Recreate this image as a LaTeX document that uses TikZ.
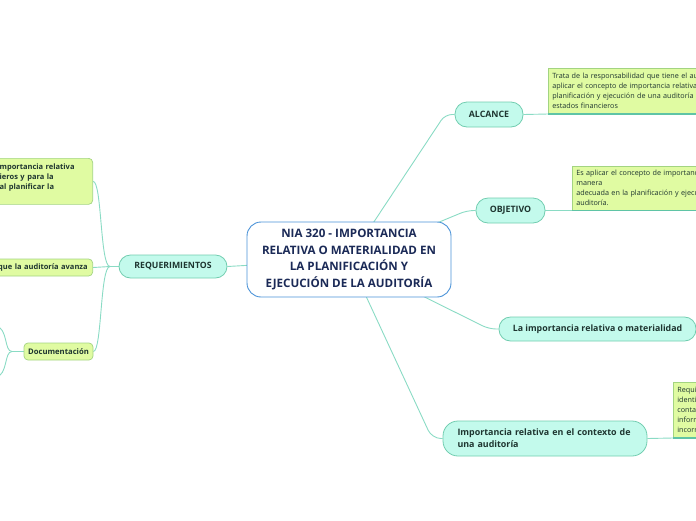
\documentclass[tikz,border=0pt]{standalone}
\usepackage{fontspec}
\setmainfont{Open Sans}
\usetikzlibrary{backgrounds,calc}
\definecolor{lineC}{HTML}{8ADBC4}
\definecolor{pillFill}{HTML}{C3FAEC}
\definecolor{pillDraw}{HTML}{72CDB0}
\definecolor{greenFill}{HTML}{E0FBA2}
\definecolor{greenDraw}{HTML}{A3D481}
\definecolor{centerDraw}{HTML}{4B93D8}
\definecolor{centerText}{HTML}{1B2A57}
\definecolor{txt}{HTML}{1E3530}
\definecolor{underC}{HTML}{5FC4A6}
\tikzset{
  conn/.style={draw=lineC, line width=0.9pt},
  under/.style={draw=underC, line width=1.3pt},
  pill/.style={draw=pillDraw, fill=pillFill, line width=0.8pt, text=txt,
    font=\bfseries\fontsize{8.8}{11.5}\selectfont, inner sep=0pt},
  gbox/.style={draw=greenDraw, fill=greenFill, line width=0.7pt, text=txt,
    font=\fontsize{7.2}{10}\selectfont, inner xsep=4pt, inner ysep=2pt, align=left},
  lbox/.style={gbox, rounded corners=4pt, font=\bfseries\fontsize{7.5}{10}\selectfont},
}
\begin{document}
\begin{tikzpicture}[x=1pt,y=-1pt]
\useasboundingbox (0,0) rectangle (696,520);
% central node
\node[draw=centerDraw, fill=white, line width=0.9pt, rounded corners=14pt,
  minimum width=204, minimum height=75, inner sep=0pt, text=centerText,
  font=\bfseries\fontsize{11.6}{16.5}\selectfont, align=center]
  (ctr) at (349,259.5) {NIA 320 - IMPORTANCIA\\RELATIVA O MATERIALIDAD EN\\LA PLANIFICACIÓN Y\\EJECUCIÓN DE LA AUDITORÍA};
% main branches
\node[pill, rounded corners=12pt, minimum width=68, minimum height=25] (alc) at (489,114.5) {ALCANCE};
\node[pill, rounded corners=12pt, minimum width=69, minimum height=25] (obj) at (510.5,210.5) {OBJETIVO};
\node[pill, rounded corners=11.5pt, minimum width=197, minimum height=24] (mat) at (597.5,329) {La importancia relativa o materialidad};
\node[pill, rounded corners=15pt, minimum width=204, minimum height=35, text width=175, align=left,
  font=\bfseries\fontsize{8.9}{12}\selectfont] (ctx) at (545,438.5) {Importancia relativa en el contexto de\\una auditoría};
\node[pill, rounded corners=11.5pt, minimum width=108, minimum height=23,
  font=\bfseries\fontsize{8.7}{10}\selectfont] (req) at (173,266.5) {REQUERIMIENTOS};
% right description boxes
\node[gbox, anchor=south west, text width=190, minimum height=45] (alcd) at (548,114)
  {Trata de la responsabilidad que tiene el au\\aplicar el concepto de importancia relativa\\planificación y ejecución de una auditoría\\estados financieros};
\node[gbox, anchor=south west, text width=160, minimum height=44] (objd) at (572,210.5)
  {Es aplicar el concepto de importanc\\manera\\adecuada en la planificación y ejecu\\auditoría.};
\node[gbox, anchor=south west, text width=60, minimum height=55] (ctxd) at (673,438)
  {Requi\\identi\\conta\\inform\\incorr};
% left boxes
\node[lbox, anchor=north east, text width=89, minimum height=46] (rq1) at (93,158)
  {mportancia relativa\\ieros y para la\\al planificar la\\\mbox{}};
\node[lbox, anchor=east, text width=100, align=right, minimum height=17, inner xsep=5pt] (rq2) at (93,267.5)
  {que la auditoría avanza};
\node[lbox, minimum width=69, minimum height=17, align=center, inner xsep=0pt,
  font=\bfseries\fontsize{7.7}{10}\selectfont] (doc) at (58.5,351.5)
  {Documentación};
% free ends and junctions
\coordinate (ja) at (445,114.5);
\coordinate (jo) at (467,210.5);
\coordinate (jm) at (489,329);
\coordinate (jc) at (432,438.5);
\coordinate (jr) at (110,266.5);
\coordinate (jd) at (12,351.5);
\coordinate (d1) at (-4,326);
\coordinate (d2) at (-4,377);
\begin{scope}[on background layer]
  \draw[conn, rounded corners=7pt] (ctr.center) -- (ja) -- (alc.west);
  \draw[conn, rounded corners=7pt] (ctr.center) -- (jo) -- (obj.west);
  \draw[conn, rounded corners=7pt] (ctr.center) -- (jm) -- (mat.west);
  \draw[conn, rounded corners=9pt] (ctr.center) -- (jc) -- (ctx.west);
  \draw[conn] (ctr.center) -- (req.east);
  \draw[conn] (req.west) -- (jr);
  \draw[conn] (jr) .. controls (100,266.5) and (102,181) .. (rq1.east);
  \draw[conn] (jr) -- (rq2.east);
  \draw[conn] (jr) .. controls (100,266.5) and (102,351.5) .. (doc.east);
  \draw[conn] (doc.west) -- (jd);
  \draw[conn] (jd) .. controls (4,351.5) and (8,328) .. (d1);
  \draw[conn] (jd) .. controls (4,351.5) and (8,375) .. (d2);
  \draw[conn] (alc.east) -- (alcd.south west);
  \draw[conn] (obj.east) -- (objd.south west);
  \draw[conn] (ctx.east) -- (ctxd.south west);
\end{scope}
\draw[under] (alcd.south west) -- (alcd.south east);
\draw[under] (objd.south west) -- (objd.south east);
\draw[under] (ctxd.south west) -- (ctxd.south east);
\end{tikzpicture}
\end{document}
